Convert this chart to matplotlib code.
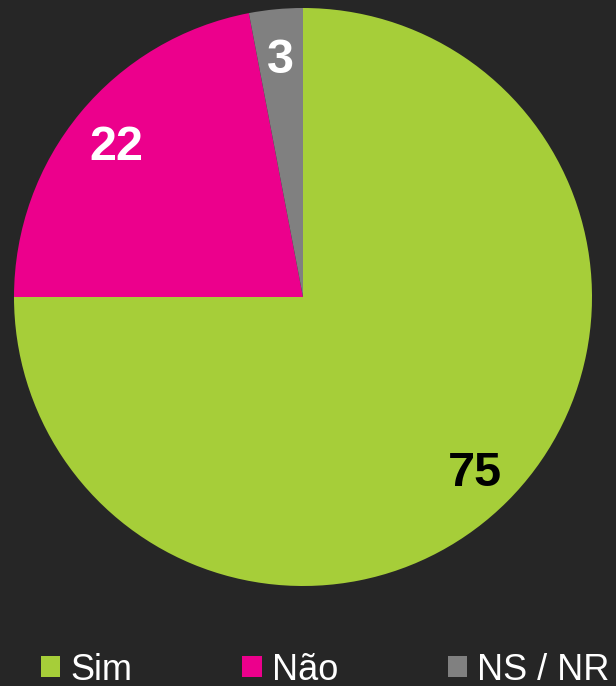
import matplotlib
matplotlib.use('Agg')
import matplotlib.pyplot as plt
from matplotlib.patches import Patch
from matplotlib.transforms import offset_copy

plt.rcParams['font.family'] = ['Liberation Sans', 'DejaVu Sans']

#-------------------------------------------------------------------------------------
categories = ['Sim', 'Não', 'NS / NR']
values = [75, 22, 3]
colors = ['#A6CE39', '#EC008C', '#808080']
label_colors = ['black', 'white', 'white']
bg = '#262626'

#-------------------------------------------------------------------------------------
W, H = 616, 686
fig = plt.figure(figsize=(W/100, H/100), dpi=100, facecolor=bg)

cx, cy, r = 303, 297, 289
ax = fig.add_axes([(cx - r)/W, (H - cy - r)/H, 2*r/W, 2*r/H])
ax.set_facecolor(bg)

wedges, texts = ax.pie(values, colors=colors, startangle=90, counterclock=False,
                       labels=[str(v) for v in values], labeldistance=0.84,
                       wedgeprops=dict(linewidth=0))
for t, c in zip(texts, label_colors):
    t.set_color(c)
    t.set_fontsize(35)
    t.set_fontweight('bold')
    t.set_ha('center')
    t.set_va('center')
    # nudge down a bit, digits sit lower in the original
    t.set_transform(offset_copy(t.get_transform(), fig=fig, y=-5, units='dots'))

ax.set_xlim(-1, 1)
ax.set_ylim(-1, 1)
ax.set_aspect('equal')
ax.axis('off')

handles = [Patch(facecolor=c, edgecolor='none') for c in colors]
leg = fig.legend(handles, categories, loc='center left', ncol=3,
                 bbox_to_anchor=(41/W, 1 - 670/H), frameon=False,
                 fontsize=26, handlelength=0.53, handleheight=0.53,
                 handletextpad=0.28, columnspacing=3.05,
                 borderpad=0, borderaxespad=0)
for t in leg.get_texts():
    t.set_color('white')

plt.savefig('out.png', dpi=100, facecolor=bg)
